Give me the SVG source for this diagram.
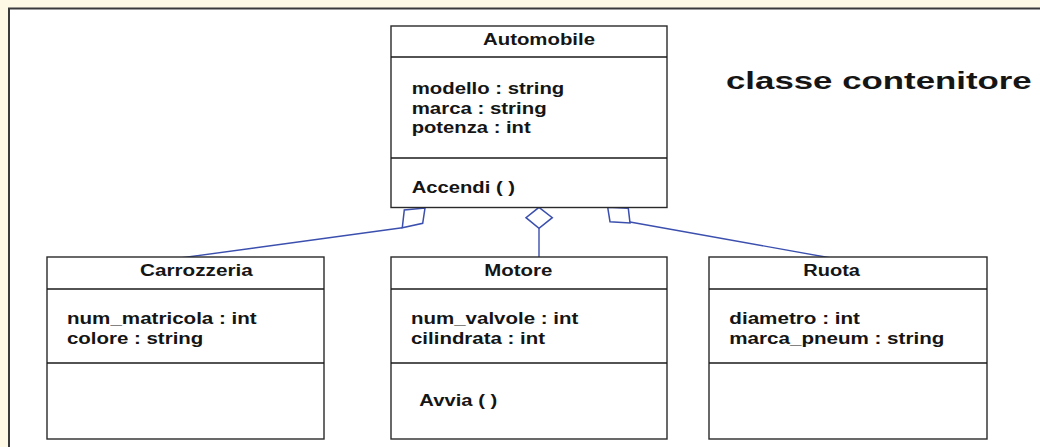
<svg xmlns="http://www.w3.org/2000/svg" width="1040" height="447" viewBox="0 0 1040 447">
<style>
.box{fill:#fff;stroke:#2a2a2a;stroke-width:1.4}
.sep{stroke:#1a1a1a;stroke-width:1.4}
.t{font-family:"Liberation Sans",Arial,sans-serif;font-weight:bold;font-size:17px;fill:#151515}
.h{font-size:16px}
.conn{fill:none;stroke:#3b4fae;stroke-width:1.4}
.dia{fill:#fff;stroke:#3b4fae;stroke-width:1.5;stroke-linejoin:miter}
</style>
<rect x="0" y="0" width="1040" height="447" fill="#fdf9e4"/>
<rect x="9" y="8.5" width="1040" height="450" fill="#fff" stroke="#3a3a3a" stroke-width="2"/>
<text class="t" x="726" y="89.3" style="font-size:24px" textLength="305.7" lengthAdjust="spacingAndGlyphs">classe contenitore</text>
<g id="connectors">
<line class="conn" x1="178.3" y1="258.3" x2="402.3" y2="227.7"/>
<polygon class="dia" points="402.3,227.7 404.3,210 425,208 422.7,223.3"/>
<line class="conn" x1="539" y1="228.3" x2="539" y2="257"/>
<polygon class="dia" points="539,207.3 552.3,217.7 539,228.3 526,217.7"/>
<line class="conn" x1="630" y1="222" x2="832.7" y2="258.3"/>
<polygon class="dia" points="607.7,207.3 628.3,208.3 630,223 610,221.7"/>
</g>
<g id="automobile">
<rect class="box" x="391" y="26" width="276" height="181.5"/>
<line class="sep" x1="391" y1="57" x2="667" y2="57"/>
<line class="sep" x1="391" y1="158" x2="667" y2="158"/>
<text class="t h" x="483" y="45" textLength="112" lengthAdjust="spacingAndGlyphs">Automobile</text>
<text class="t" x="411.7" y="94" textLength="152.6" lengthAdjust="spacingAndGlyphs">modello : string</text>
<text class="t" x="411.7" y="114" textLength="135" lengthAdjust="spacingAndGlyphs">marca : string</text>
<text class="t" x="411.7" y="133.3" textLength="119" lengthAdjust="spacingAndGlyphs">potenza : int</text>
<text class="t" x="411.7" y="192.7" textLength="103.3" lengthAdjust="spacingAndGlyphs">Accendi ( )</text>
</g>
<g id="carrozzeria">
<rect class="box" x="47" y="257" width="277" height="182"/>
<line class="sep" x1="47" y1="289" x2="324" y2="289"/>
<line class="sep" x1="47" y1="363" x2="324" y2="363"/>
<text class="t h" x="140" y="275.7" textLength="112.7" lengthAdjust="spacingAndGlyphs">Carrozzeria</text>
<text class="t" x="67" y="324" textLength="189.7" lengthAdjust="spacingAndGlyphs">num_matricola : int</text>
<text class="t" x="67" y="344.3" textLength="136.3" lengthAdjust="spacingAndGlyphs">colore : string</text>
</g>
<g id="motore">
<rect class="box" x="391" y="257" width="276" height="182"/>
<line class="sep" x1="391" y1="289" x2="667" y2="289"/>
<line class="sep" x1="391" y1="363" x2="667" y2="363"/>
<text class="t h" x="484.3" y="275.7" textLength="68" lengthAdjust="spacingAndGlyphs">Motore</text>
<text class="t" x="411" y="324" textLength="167.3" lengthAdjust="spacingAndGlyphs">num_valvole : int</text>
<text class="t" x="411" y="344.3" textLength="134" lengthAdjust="spacingAndGlyphs">cilindrata : int</text>
<text class="t" x="419.3" y="405.7" textLength="78" lengthAdjust="spacingAndGlyphs">Avvia ( )</text>
</g>
<g id="ruota">
<rect class="box" x="709" y="257" width="278" height="182"/>
<line class="sep" x1="709" y1="289" x2="987" y2="289"/>
<line class="sep" x1="709" y1="363" x2="987" y2="363"/>
<text class="t h" x="803.3" y="275.7" textLength="56.7" lengthAdjust="spacingAndGlyphs">Ruota</text>
<text class="t" x="729.3" y="324" textLength="130.7" lengthAdjust="spacingAndGlyphs">diametro : int</text>
<text class="t" x="729.3" y="344.3" textLength="215" lengthAdjust="spacingAndGlyphs">marca_pneum : string</text>
</g>
</svg>
